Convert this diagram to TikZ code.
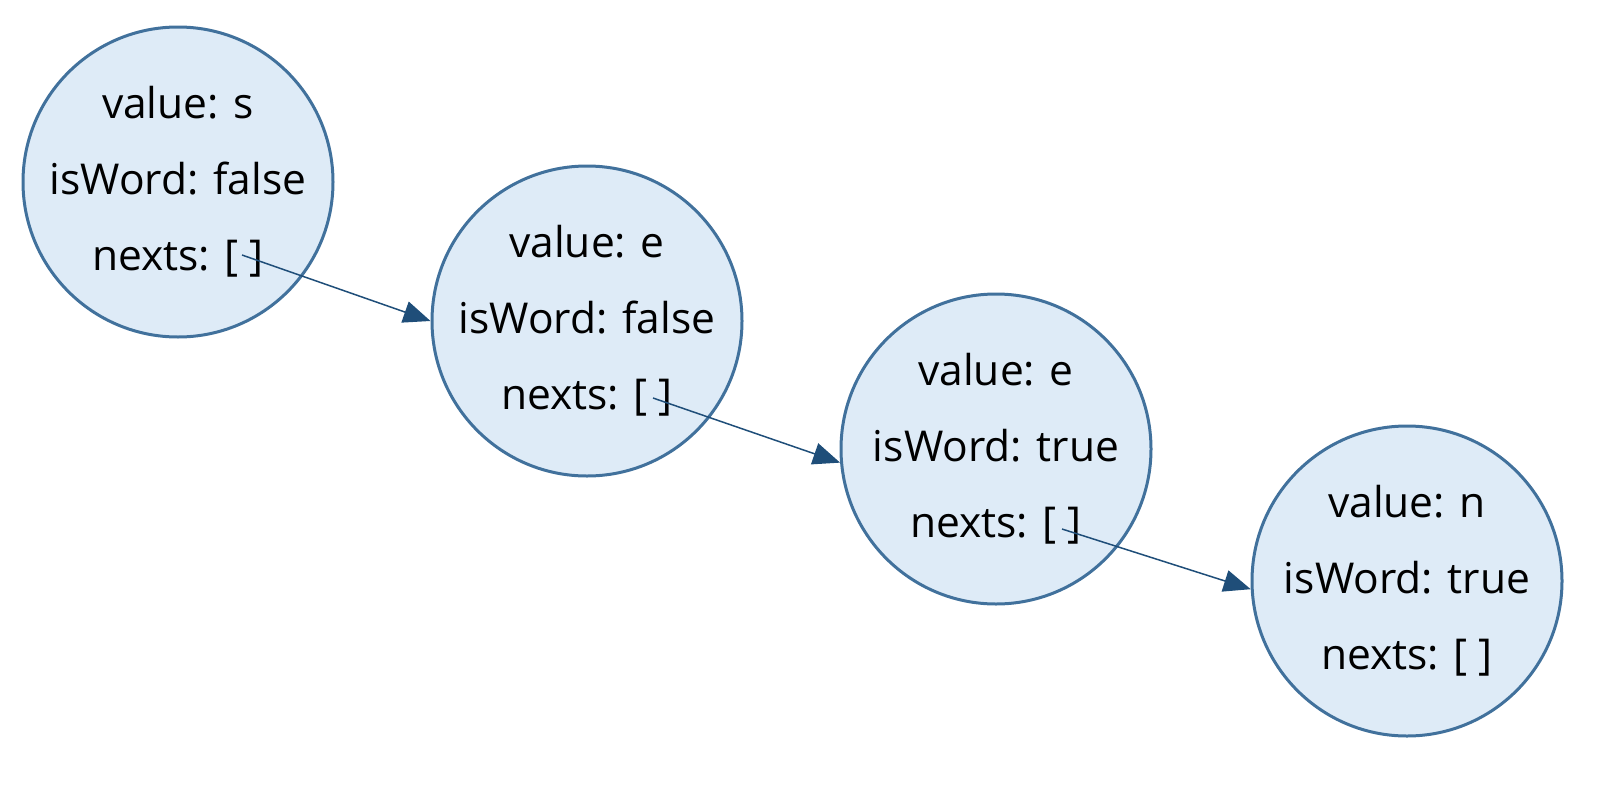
\documentclass[tikz,border=0pt]{standalone}
\usepackage{fontspec}
\setmainfont{Open Sans}
\usetikzlibrary{arrows.meta}
\definecolor{cfill}{HTML}{DEEBF7}
\definecolor{cline}{HTML}{41719C}
\definecolor{aline}{HTML}{1F4E79}
\begin{document}
\begin{tikzpicture}[x=1pt,y=-1pt,
  trie/.style={circle,draw=cline,fill=cfill,line width=3pt,minimum size=310pt,inner sep=0pt},
  txt/.style={align=center,inner sep=0pt,font=\fontsize{42.5}{76}\selectfont},
  link/.style={draw=aline,line width=1.5pt,-{Triangle[length=27pt,width=22pt]}}]
\useasboundingbox (0,0) rectangle (1609,806);
\node[trie] (n1) at (178,182) {};
\node[trie] (n2) at (587,321) {};
\node[trie] (n3) at (996,449) {};
\node[trie] (n4) at (1407,581) {};
\node[txt] (t1) at (n1.center) {value: s\\isWord: false\\nexts: [ ]};
\node[txt] (t2) at (n2.center) {value: e\\isWord: false\\nexts: [ ]};
\node[txt] (t3) at (n3.center) {value: e\\isWord: true\\nexts: [ ]};
\node[txt] (t4) at (n4.center) {value: n\\isWord: true\\nexts: [ ]};
\coordinate (s1) at ([shift={(64,73)}]n1.center);
\coordinate (s2) at ([shift={(66,77)}]n2.center);
\coordinate (s3) at ([shift={(66,80)}]n3.center);
\draw[link] (s1) -- (n2.west);
\draw[link] (s2) -- (n3.185);
\draw[link] (s3) -- (n4.183);
\end{tikzpicture}
\end{document}
